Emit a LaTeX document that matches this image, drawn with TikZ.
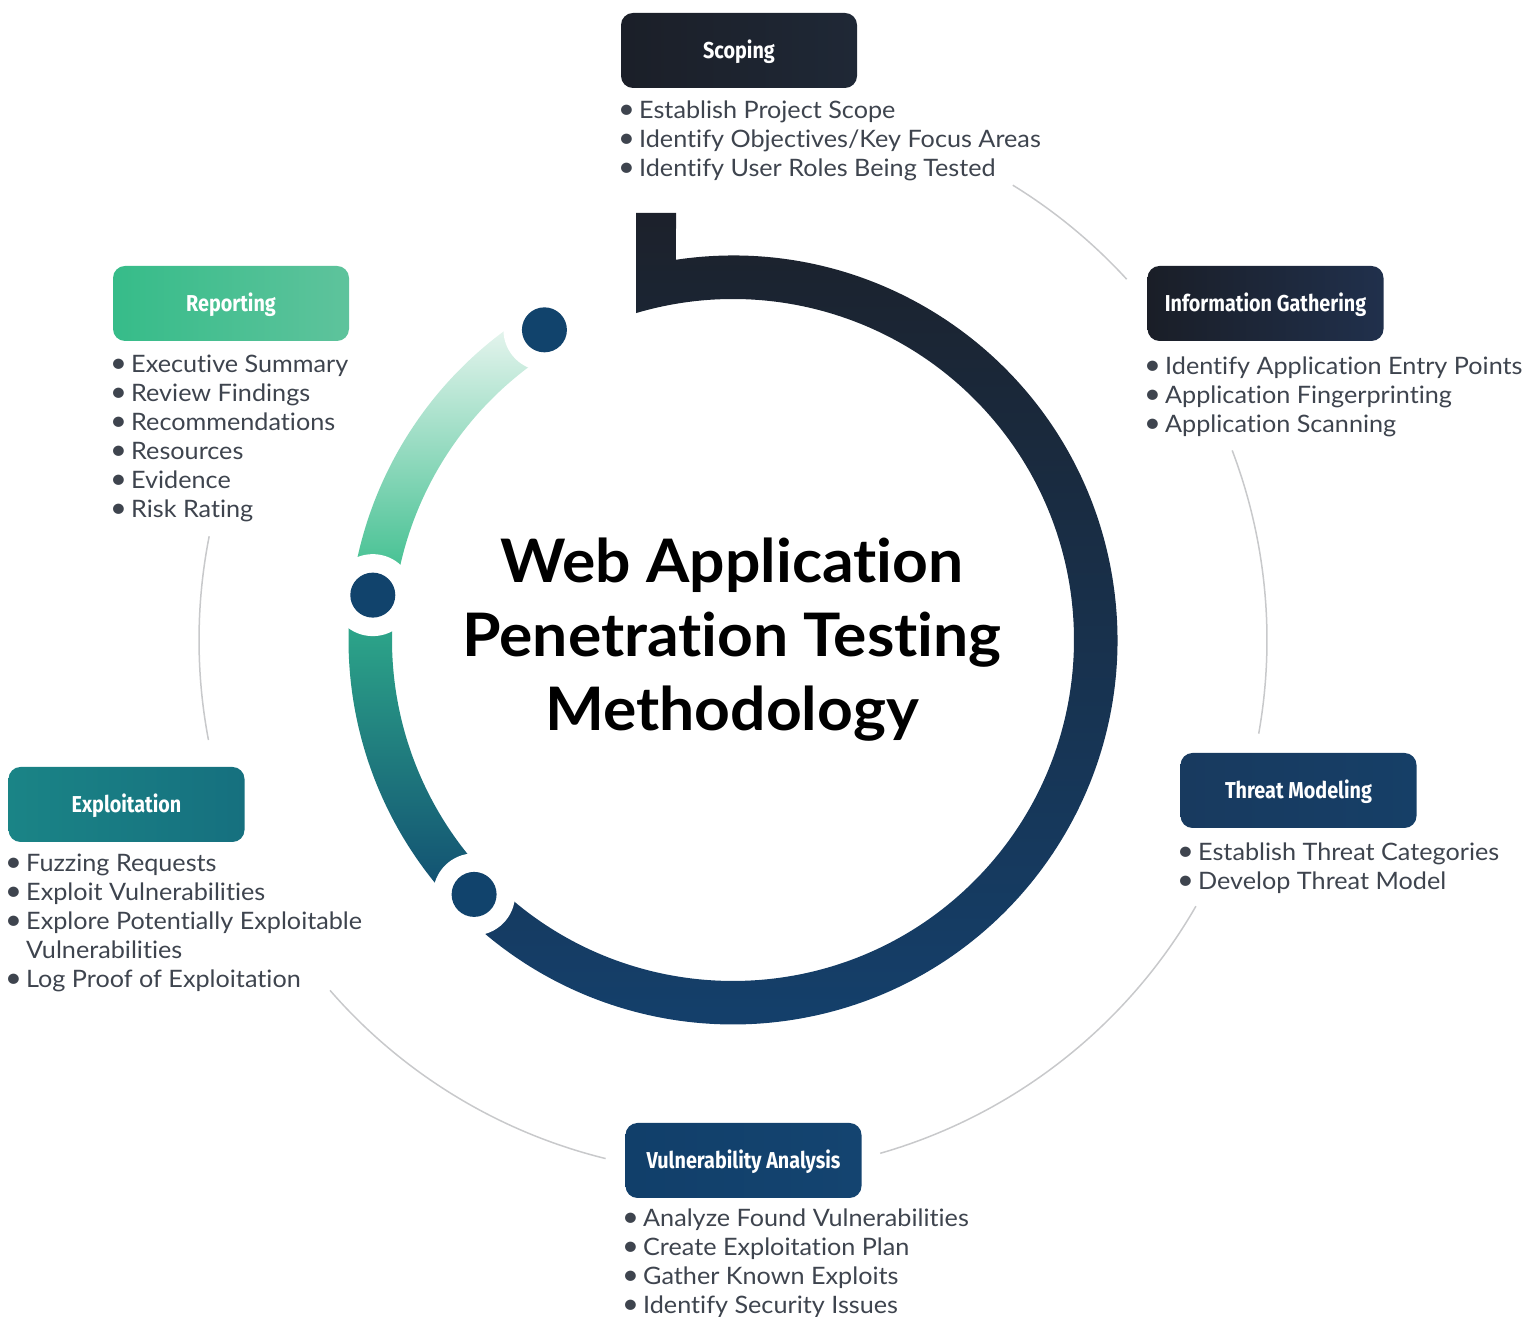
\documentclass[tikz,border=0pt]{standalone}
\usepackage{fontspec}
\usetikzlibrary{calc}
\setmainfont{Lato}[Ligatures=NoCommon, FakeStretch=1.05]
\newfontfamily\titlefont{Lato}[Ligatures=NoCommon, FakeStretch=1.04]
\newfontfamily\labelfont[FakeStretch=0.86]{Fira Sans}

\definecolor{bodygray}{HTML}{3E444E}
\definecolor{arcgray}{HTML}{C8C9CB}
\definecolor{dotblue}{HTML}{11436C}
\definecolor{ringtop}{HTML}{1C212B}
\definecolor{ringbot}{HTML}{14406C}
\definecolor{tealtop}{HTML}{30B08C}
\definecolor{tealbot}{HTML}{104A70}
\definecolor{greentop}{HTML}{F0F8F4}
\definecolor{greenbot}{HTML}{33BB88}
\definecolor{scopeL}{HTML}{1B1F28}
\definecolor{scopeR}{HTML}{1F2836}
\definecolor{infoL}{HTML}{1A1E27}
\definecolor{infoR}{HTML}{20304C}
\definecolor{repL}{HTML}{36BC89}
\definecolor{repR}{HTML}{5EC39C}
\definecolor{expL}{HTML}{1A8486}
\definecolor{expR}{HTML}{16707F}
\definecolor{thrL}{HTML}{183A5F}
\definecolor{thrR}{HTML}{163F67}
\definecolor{vulL}{HTML}{113F6A}
\definecolor{vulR}{HTML}{144470}

\newcommand\bul{\makebox[18pt][l]{\hspace{-3pt}\scalebox{1.15}{\textbullet}}}

\begin{document}
\begin{tikzpicture}[x=1pt,y=1pt,
  stage/.style={rounded corners=12pt, minimum width=236pt, minimum height=75pt,
    inner sep=0pt, text=white, font=\labelfont\bfseries\fontsize{23}{23}\selectfont,
    text height=16pt, text depth=0pt},
  item/.style={anchor=base west, inner sep=0pt, text=bodygray,
    font=\fontsize{24}{29}\selectfont},
  conn/.style={draw=arcgray, line width=1.5pt},
  dot/.style={circle, fill=dotblue, minimum size=45pt, inner sep=0pt},
  headline/.style={anchor=base, inner sep=0pt, text=black,
    font=\titlefont\bfseries\fontsize{60}{74}\selectfont}]

\useasboundingbox (0,0) rectangle (1532,1317);
\coordinate (C) at (733,677);

% thin outer arcs linking the stages
\foreach \s/\e [count=\i] in {58.4/42.5, 20.8/-10.1, -29.9/-74.0, -103.8/-139.0, 190.8/168.8} {
  \coordinate (link\i) at ($(C)+(\s:534)$);
  \draw[conn] (link\i) arc[start angle=\s, end angle=\e, radius=534];
}

% main dark band with the square stub at the top
\shade[top color=ringtop, bottom color=ringbot]
  (636,1104) -- (676,1104) -- ($(C)+(98.53:384.5)$)
  arc[start angle=98.53, end angle=-135.5, radius=384.5]
  -- ($(C)+(-135.5:341)$)
  arc[start angle=-135.5, end angle=106.5, radius=341] -- cycle;

% teal band on the lower left
\shade[top color=tealtop, bottom color=tealbot]
  ($(C)+(172.9:384.5)$) arc[start angle=172.9, end angle=224.5, radius=384.5]
  -- ($(C)+(224.5:341)$) arc[start angle=224.5, end angle=172.9, radius=341] -- cycle;

% green band fading out towards the top
\shade[top color=greentop, bottom color=greenbot]
  ($(C)+(121.3:384.5)$) arc[start angle=121.3, end angle=172.9, radius=384.5]
  -- ($(C)+(172.9:341)$) arc[start angle=172.9, end angle=121.3, radius=341] -- cycle;

% milestone dots with white gaps
\foreach \a [count=\i] in {121.3,172.9,224.5} {
  \fill[white] ($(C)+(\a:363)$) circle[radius=41];
  \node[dot] (dot\i) at ($(C)+(\a:363)$) {};
}

% title
\node[headline] (title1) at (732,734) {Web Application};
\node[headline] (title2) at (732,660) {Penetration Testing};
\node[headline] (title3) at (732,586) {Methodology};

% stage boxes
\node[stage, left color=scopeL, right color=scopeR] (scoping) at (739,1266.5) {Scoping};
\node[stage, left color=infoL, right color=infoR] (info) at (1265.5,1013.5) {Information Gathering};
\node[stage, left color=repL, right color=repR] (report) at (231,1013.5) {Reporting};
\node[stage, left color=expL, right color=expR] (exploit) at (126.5,512.5) {Exploitation};
\node[stage, left color=thrL, right color=thrR] (threat) at (1298.5,526.5) {Threat Modeling};
\node[stage, left color=vulL, right color=vulR] (vuln) at (743.5,156.5) {Vulnerability Analysis};

% bullet lists
\foreach \t [count=\i] in {Establish Project Scope, Identify Objectives/Key Focus Areas, Identify User Roles Being Tested}
  \node[item] (sc\i) at (621,{1198-29*(\i-1)}) {\bul\t};

\foreach \t [count=\i] in {Identify Application Entry Points, Application Fingerprinting, Application Scanning}
  \node[item] (ig\i) at (1147,{942-29*(\i-1)}) {\bul\t};

\foreach \t [count=\i] in {Executive Summary, Review Findings, Recommendations, Resources, Evidence, Risk Rating}
  \node[item] (rp\i) at (113,{944-29*(\i-1)}) {\bul\t};

\foreach \t [count=\i] in {Establish Threat Categories, Develop Threat Model}
  \node[item] (tm\i) at (1180,{456-29*(\i-1)}) {\bul\t};

\node[item] (ex1) at (8,445) {\bul Fuzzing Requests};
\node[item] (ex2) at (8,416) {\bul Exploit Vulnerabilities};
\node[item] (ex3) at (8,387) {\bul Explore Potentially Exploitable};
\node[item] (ex4) at (8,358) {\hspace{18pt}Vulnerabilities};
\node[item] (ex5) at (8,329) {\bul Log Proof of Exploitation};

\foreach \t [count=\i] in {Analyze Found Vulnerabilities, Create Exploitation Plan, Gather Known Exploits, Identify Security Issues}
  \node[item] (va\i) at (625,{90-29*(\i-1)}) {\bul\t};

\end{tikzpicture}
\end{document}
